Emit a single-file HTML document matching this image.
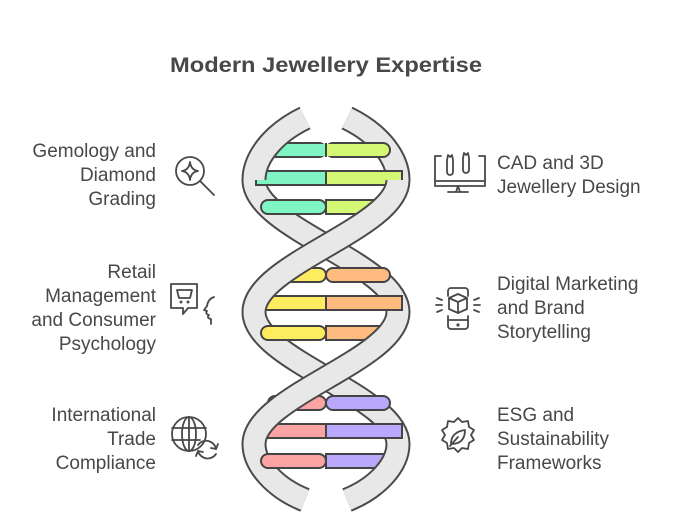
<!DOCTYPE html>
<html><head><meta charset="utf-8"><style>
html,body{margin:0;padding:0;background:#fff;}
svg{display:block}
text{font-family:"Liberation Sans",sans-serif;fill:#484848;}
.l{font-size:19px;text-anchor:end}
.r{font-size:19px}
.ic{fill:none;stroke:#484848;stroke-width:1.8;stroke-linecap:round;stroke-linejoin:round}
.bo{fill:none;stroke:#4a4a4a;stroke-width:25}
.bf{fill:none;stroke:#e8e8e8;stroke-width:21}
.rung{stroke:#444;stroke-width:2}
</style></head><body>
<svg width="678" height="514" viewBox="0 0 678 514">
<text x="170" y="72" font-size="21" font-weight="bold" textLength="312" lengthAdjust="spacingAndGlyphs">Modern Jewellery Expertise</text>

<g>
<g id="back">
<path class="bo" d="M254,180 C254,228 398,264 398,312"/>
<path class="bo" d="M254,444 C254,465 275,488 305,500"/>
<path class="bo" d="M347,118 C382,135 398,160 398,180"/>
<path class="bo" d="M254,312 C254,360 398,396 398,444"/>
<path class="bf" d="M254,180 C254,228 398,264 398,312"/>
<path class="bf" d="M254,444 C254,465 275,488 305,500"/>
<path class="bf" d="M347,118 C382,135 398,160 398,180"/>
<path class="bf" d="M254,312 C254,360 398,396 398,444"/>
</g>
<g>
<rect class="rung" x="268" y="143" width="58" height="14" rx="7" fill="#80f5c4"/><rect class="rung" x="326" y="143" width="64" height="14" rx="7" fill="#d4f774"/><rect x="300" y="144" width="40" height="12" fill="#80f5c4"/><rect x="326" y="144" width="30" height="12" fill="#d4f774"/><line class="rung" x1="326" y1="143" x2="326" y2="157"/>
<rect class="rung" x="256" y="171" width="70" height="14" fill="#80f5c4"/><rect class="rung" x="326" y="171" width="76" height="14" fill="#d4f774"/>
<rect class="rung" x="261" y="200" width="65" height="14" rx="7" fill="#80f5c4"/><rect class="rung" x="326" y="200" width="60" height="14" fill="#d4f774"/>

<rect class="rung" x="268" y="268" width="58" height="14" rx="7" fill="#fdec5f"/><rect class="rung" x="326" y="268" width="64" height="14" rx="7" fill="#fdbb80"/>
<rect class="rung" x="256" y="296" width="70" height="14" fill="#fdec5f"/><rect class="rung" x="326" y="296" width="76" height="14" fill="#fdbb80"/>
<rect class="rung" x="261" y="326" width="65" height="14" rx="7" fill="#fdec5f"/><rect class="rung" x="326" y="326" width="60" height="14" fill="#fdbb80"/>

<rect class="rung" x="268" y="396" width="58" height="14" rx="7" fill="#fca4a4"/><rect class="rung" x="326" y="396" width="64" height="14" rx="7" fill="#b9a8fc"/>
<rect class="rung" x="256" y="424" width="70" height="14" fill="#fca4a4"/><rect class="rung" x="326" y="424" width="76" height="14" fill="#b9a8fc"/>
<rect class="rung" x="261" y="454" width="65" height="14" rx="7" fill="#fca4a4"/><rect class="rung" x="326" y="454" width="60" height="14" fill="#b9a8fc"/>
</g>
<path class="bo" d="M305,118 C270,135 254,160 254,180"/>
<path class="bo" d="M398,180 C398,228 254,264 254,312"/>
<path class="bo" d="M398,312 C398,360 254,396 254,444"/>
<path class="bo" d="M398,444 C398,465 377,488 347,500"/>
<path class="bf" d="M305,118 C270,135 254,160 254,180"/>
<path class="bf" d="M398,180 C398,228 254,264 254,312"/>
<path class="bf" d="M398,312 C398,360 254,396 254,444"/>
<path class="bf" d="M398,444 C398,465 377,488 347,500"/>
</g>

<text class="l" x="156" y="157">Gemology and</text>
<text class="l" x="156" y="181">Diamond</text>
<text class="l" x="156" y="205">Grading</text>
<text class="l" x="156" y="278">Retail</text>
<text class="l" x="156" y="302">Management</text>
<text class="l" x="156" y="326">and Consumer</text>
<text class="l" x="156" y="350">Psychology</text>
<text class="l" x="156" y="421">International</text>
<text class="l" x="156" y="445">Trade</text>
<text class="l" x="156" y="469">Compliance</text>
<text class="r" x="497" y="169">CAD and 3D</text>
<text class="r" x="497" y="193">Jewellery Design</text>
<text class="r" x="497" y="290">Digital Marketing</text>
<text class="r" x="497" y="314">and Brand</text>
<text class="r" x="497" y="338">Storytelling</text>
<text class="r" x="497" y="421">ESG and</text>
<text class="r" x="497" y="445">Sustainability</text>
<text class="r" x="497" y="469">Frameworks</text>

<g class="ic">
<circle cx="190" cy="171" r="14"/><line x1="200" y1="181" x2="214" y2="195"/>
<path d="M190,162 Q191,170 198,171 Q191,172 190,180 Q189,172 182,171 Q189,170 190,162Z"/>
<path d="M171,284 h26 v24 h-9 l-5,6 v-6 h-12z"/>
<path d="M177,290 h15 l-2,8 h-11z"/><circle cx="181" cy="302" r="0.6"/><circle cx="188" cy="302" r="0.6"/>
<path d="M214,297 q-6,2 -7,9 l-3,4 l3,1 q-2,3 2,4 q-3,3 2,4 v5"/>
<circle cx="189" cy="434" r="17"/><ellipse cx="189" cy="434" rx="7" ry="17"/><line x1="172" y1="428" x2="206" y2="428"/><line x1="172" y1="440" x2="200" y2="440"/><line x1="189" y1="417" x2="189" y2="451"/>
<path d="M198,445 a10,10 0 0 1 18,4"/><path d="M216,449 l2,-5 M216,449 l-5,-1"/>
<path d="M216,454 a10,10 0 0 1 -18,-3"/><path d="M198,451 l-2,5 M198,451 l5,1"/>
</g>
<g class="ic">
<path d="M441,156 h-6 v30 h50 v-30 h-6"/><line x1="435" y1="181" x2="485" y2="181"/><path d="M458,186 l-2,6 h-8 h20 h-8 l-2,-6"/>
<path d="M447,160 v12 a3,3 0 0 0 6,0 v-12 l-1,-5 l-2,2 l-2,-2 z"/><path d="M463,158 v12 a3,3 0 0 0 6,0 v-12 l-1,-5 l-2,2 l-2,-2 z"/>
<path d="M448,296 v-5 a3,3 0 0 1 3,-3 h14 a3,3 0 0 1 3,3 v5"/><path d="M448,316 v10 a3,3 0 0 0 3,3 h14 a3,3 0 0 0 3,-3 v-10"/><line x1="448" y1="320" x2="468" y2="320"/><circle cx="458" cy="325" r="0.7"/>
<path d="M458,294 l9,4 v11 l-9,4 l-9,-4 v-11z"/><path d="M449,298 l9,4 l9,-4 M458,302 v11"/>
<line x1="437" y1="298" x2="442" y2="300"/><line x1="436" y1="305" x2="442" y2="305"/><line x1="437" y1="312" x2="442" y2="310"/>
<line x1="479" y1="298" x2="474" y2="300"/><line x1="480" y1="305" x2="474" y2="305"/><line x1="479" y1="312" x2="474" y2="310"/>
<path d="M458,418 l4,4 l6,-1 l1,6 l5,3 l-3,5 l3,5 l-5,3 l-1,6 l-6,-1 l-4,4 l-4,-4 l-6,1 l-1,-6 l-5,-3 l3,-5 l-3,-5 l5,-3 l1,-6 l6,1z"/>
<path d="M451,444 q0,-12 14,-14 q0,14 -14,14z"/><line x1="450" y1="446" x2="458" y2="437"/>
</g>
</svg>
</body></html>
